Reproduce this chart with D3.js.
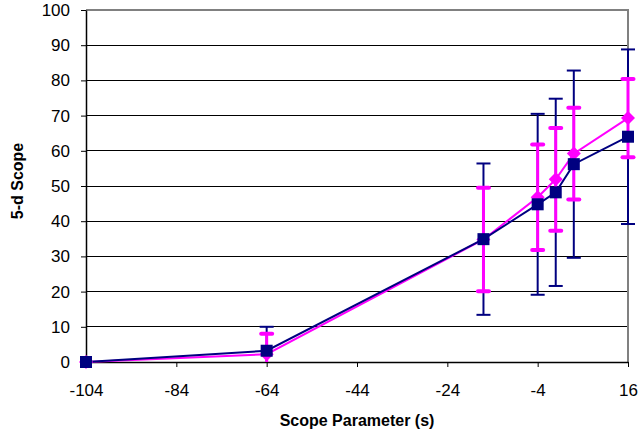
<!DOCTYPE html>
<html>
<head>
<meta charset="utf-8">
<script src="https://cdn.jsdelivr.net/npm/d3@7"></script>
<style>
  body { margin: 0; background: #fff; }
  text { font-family: "Liberation Sans", Arial, sans-serif; }
</style>
</head>
<body>
<div id="chart"></div>
<script>
const xValues = [-104, -64, -16, -4, 0, 4, 16];
const navyValues = [0, 3.2, 34.9, 44.8, 48.2, 56.2, 64.0];
const navyErrors = [0, 6.8, 21.5, 25.7, 26.6, 26.6, 24.8];
const pinkValues = [0, 2.2, 34.8, 46.8, 51.9, 59.2, 69.3];
const pinkErrors = [0, 5.8, 14.7, 15.0, 14.6, 13.0, 11.1];
const xTicks = [-104, -84, -64, -44, -24, -4, 16];
const yTicks = [0, 10, 20, 30, 40, 50, 60, 70, 80, 90, 100];

const width = 639, height = 435;
const plotLeft = 86, plotRight = 628, plotTop = 10, plotBottom = 362;

const svg = d3.select('#chart').append('svg')
  .attr('width', width)
  .attr('height', height);

const x = d3.scaleLinear().domain([-104, 16]).range([plotLeft, plotRight]);
const y = d3.scaleLinear().domain([0, 100]).range([plotBottom, plotTop]);

// gridlines
svg.append('g').selectAll('line')
  .data(yTicks.filter(t => t > 0 && t < 100))
  .enter().append('line')
  .attr('x1', plotLeft).attr('x2', plotRight)
  .attr('y1', d => y(d)).attr('y2', d => y(d))
  .attr('stroke', '#000').attr('stroke-width', 1)
  .attr('shape-rendering', 'crispEdges');

// plot border top/right
svg.append('path')
  .attr('d', `M${plotLeft},${plotTop}H${plotRight}V${plotBottom}`)
  .attr('fill', 'none').attr('stroke', '#808080').attr('stroke-width', 2);

// axes
const yAxis = svg.append('g')
  .attr('transform', `translate(${plotLeft},0)`)
  .call(d3.axisLeft(y).tickValues(yTicks).tickSize(5).tickSizeOuter(0).tickFormat(d => String(d)));
const xAxis = svg.append('g')
  .attr('transform', `translate(0,${plotBottom})`)
  .call(d3.axisBottom(x).tickValues(xTicks).tickSize(5).tickSizeOuter(0).tickFormat(d => String(d)));

[yAxis, xAxis].forEach(a => {
  a.select('.domain').attr('stroke', '#000').attr('stroke-width', 1.5);
  a.selectAll('.tick line').attr('stroke', '#000');
  a.selectAll('.tick text')
    .attr('fill', '#000')
    .style('font-size', '17px')
    .style('font-family', '"Liberation Sans", Arial, sans-serif');
});
yAxis.selectAll('.tick text').attr('x', -16);
xAxis.selectAll('.tick text').attr('y', 22);

// axis titles
svg.append('text')
  .attr('x', 357).attr('y', 426)
  .attr('text-anchor', 'middle')
  .style('font-size', '16px').style('font-weight', 'bold')
  .text('Scope Parameter (s)');
svg.append('text')
  .attr('transform', 'translate(23,181) rotate(-90)')
  .attr('text-anchor', 'middle')
  .style('font-size', '16px').style('font-weight', 'bold')
  .text('5-d Scope');

function errorBars(values, errors, color, lineW, capW, capH, round) {
  const g = svg.append('g');
  xValues.forEach((xv, i) => {
    if (!errors[i]) return;
    const hi = Math.min(100, values[i] + errors[i]);
    const lo = Math.max(0, values[i] - errors[i]);
    g.append('line')
      .attr('x1', x(xv)).attr('x2', x(xv))
      .attr('y1', y(hi)).attr('y2', y(lo))
      .attr('stroke', color).attr('stroke-width', lineW);
    [values[i] + errors[i], values[i] - errors[i]].forEach(v => {
      if (v < 0) return;
      g.append('line')
        .attr('x1', x(xv) - capW / 2).attr('x2', x(xv) + capW / 2)
        .attr('y1', y(v)).attr('y2', y(v))
        .attr('stroke', color).attr('stroke-width', capH)
        .attr('stroke-linecap', round ? 'round' : 'butt');
    });
  });
}

errorBars(navyValues, navyErrors, '#000080', 2, 14, 2, false);
errorBars(pinkValues, pinkErrors, '#FF00FF', 3, 11, 4, true);

const line = d3.line().x(d => x(d[0])).y(d => y(d[1]));
svg.append('path')
  .datum(xValues.map((xv, i) => [xv, pinkValues[i]]))
  .attr('d', line).attr('fill', 'none')
  .attr('stroke', '#FF00FF').attr('stroke-width', 2);
svg.append('path')
  .datum(xValues.map((xv, i) => [xv, navyValues[i]]))
  .attr('d', line).attr('fill', 'none')
  .attr('stroke', '#000080').attr('stroke-width', 2);

svg.append('g').selectAll('path')
  .data(xValues.map((xv, i) => [xv, pinkValues[i]]))
  .enter().append('path')
  .attr('transform', d => `translate(${x(d[0])},${y(d[1])})`)
  .attr('d', 'M0,-7L7,0L0,7L-7,0Z')
  .attr('fill', '#FF00FF');

svg.append('g').selectAll('rect')
  .data(xValues.map((xv, i) => [xv, navyValues[i]]))
  .enter().append('rect')
  .attr('x', d => x(d[0]) - 6).attr('y', d => y(d[1]) - 6)
  .attr('width', 12).attr('height', 12)
  .attr('fill', '#000080');
</script>
</body>
</html>
